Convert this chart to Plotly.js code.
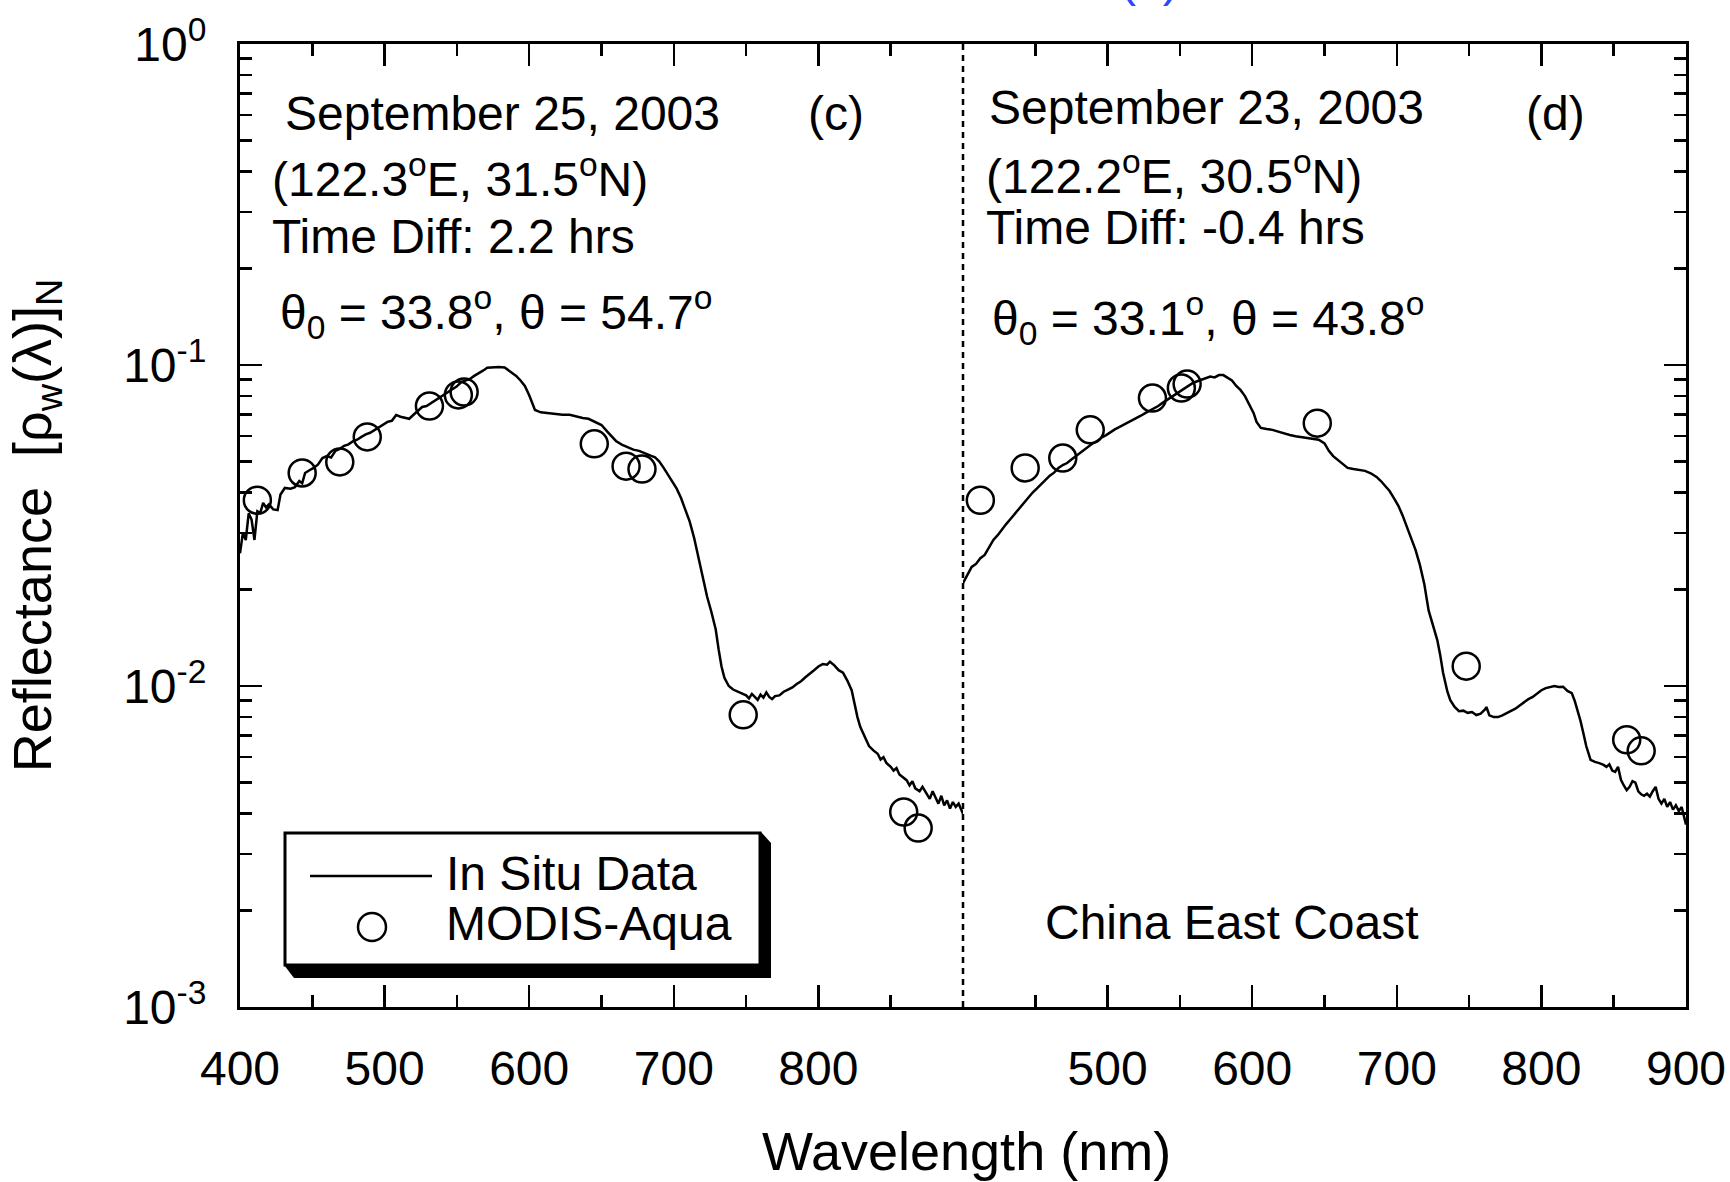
<!DOCTYPE html>
<html><head><meta charset="utf-8">
<script src="https://cdn.plot.ly/plotly-3.0.1.min.js"></script>
<style>html,body{margin:0;padding:0;background:#fff;} #chart{width:1730px;height:1182px;}</style>
</head><body><div id="chart"></div>
<script>
// ---------- DATA ----------
// In situ spectrum, September 25, 2003 (panel c)
const wlSep25 = [400,402,404,406,408,410,412,414,416,418,420,423,426,428,431,435,438,441,443,445,448,451,454,457,460,463,466,469,472,475,478,481,484,487,490,493,496,499,502,505,508,511,514,517,520,523,526,529,532,535,538,541,544,547,550,553,556,559,562,565,568,571,575,579,583,586,588,591,594,597,600,602,604,608,613,618,623,628,633,637,641,645,650,654,657,660,664,668,672,676,680,684,687,690,693,696,699,702,705,708,711,714,717,720,723,726,729,731,733,735,738,741,744,747,750,752,754,756,758,760,762,764,766,768,770,773,776,779,782,785,788,791,794,797,800,803,806,808,811,814,817,820,823,825,827,829,832,835,838,841,843,845,847,850,852,854,856,858,861,863,865,867,870,872,875,877,879,881,883,885,887,889,891,893,895,897,900];
const rwSep25 = [0.0259,0.0300,0.0285,0.0345,0.0330,0.0285,0.0350,0.0346,0.0372,0.0360,0.0368,0.0355,0.0353,0.0395,0.0414,0.0412,0.0416,0.0435,0.0428,0.0461,0.0470,0.0478,0.0490,0.0513,0.0520,0.0515,0.0540,0.0548,0.0560,0.0566,0.0578,0.0585,0.0597,0.0608,0.0615,0.0628,0.0640,0.0652,0.0665,0.0670,0.0699,0.0690,0.0684,0.0680,0.0700,0.0718,0.0740,0.0745,0.0760,0.0775,0.0790,0.0807,0.0820,0.0840,0.0858,0.0885,0.0895,0.0905,0.0925,0.0940,0.0960,0.0980,0.0985,0.0985,0.0982,0.0960,0.0951,0.0925,0.0895,0.0860,0.0805,0.0760,0.0724,0.0712,0.0708,0.0704,0.0700,0.0700,0.0690,0.0684,0.0680,0.0665,0.0650,0.0620,0.0600,0.0580,0.0565,0.0555,0.0545,0.0540,0.0530,0.0522,0.0516,0.0500,0.0478,0.0455,0.0430,0.0412,0.0385,0.0355,0.0325,0.0290,0.0252,0.0215,0.0190,0.0170,0.0150,0.0130,0.0115,0.0106,0.0100,0.00975,0.00960,0.00945,0.00935,0.00915,0.00945,0.00925,0.00905,0.00940,0.00920,0.00955,0.00925,0.00910,0.00930,0.00935,0.00960,0.00975,0.00990,0.01015,0.01035,0.01065,0.01090,0.01120,0.01150,0.01170,0.01165,0.01190,0.01160,0.01120,0.01100,0.01040,0.00970,0.00880,0.00800,0.00745,0.00700,0.00650,0.00630,0.00615,0.00590,0.00600,0.00576,0.00560,0.00545,0.00555,0.00530,0.00520,0.00509,0.00490,0.00505,0.00480,0.00470,0.00485,0.00462,0.00445,0.00470,0.00450,0.00430,0.00455,0.00425,0.00440,0.00415,0.00435,0.00420,0.00430,0.00400];
// MODIS-Aqua, September 25, 2003
const modisBandsSep25 = [412,443,469,488,531,551,555,645,667,678,748,859,869];
const modisSep25 = [0.0379,0.0461,0.0499,0.0597,0.0745,0.0807,0.0824,0.0568,0.0484,0.0474,0.00813,0.00405,0.00361];

// In situ spectrum, September 23, 2003 (panel d)
const wlSep23 = [400,403,406,409,412,415,418,421,424,427,430,433,436,439,442,445,448,451,454,457,460,463,466,469,472,475,478,481,484,487,490,493,496,499,502,505,508,511,514,517,520,523,526,529,532,535,538,541,544,547,550,553,556,559,562,565,568,571,574,577,580,583,586,589,592,595,598,601,603,606,610,614,618,622,626,630,634,638,642,646,650,653,656,659,662,666,670,674,678,682,686,689,692,695,698,701,704,707,710,713,716,719,722,725,728,730,732,735,737,740,743,746,749,752,755,758,761,762,764,767,770,773,776,779,782,785,788,791,794,797,800,803,806,809,812,815,818,821,823,825,827,829,831,834,837,840,843,845,847,849,851,853,855,857,859,861,863,865,867,869,871,873,875,877,879,881,883,885,887,889,891,893,895,897,899,900];
const rwSep23 = [0.0209,0.0222,0.0235,0.0240,0.0250,0.0256,0.0270,0.0285,0.0295,0.0308,0.0320,0.0332,0.0345,0.0358,0.0372,0.0388,0.0400,0.0412,0.0425,0.0440,0.0452,0.0462,0.0478,0.0488,0.0495,0.0508,0.0520,0.0530,0.0545,0.0555,0.0571,0.0580,0.0595,0.0605,0.0618,0.0630,0.0640,0.0650,0.0660,0.0672,0.0684,0.0695,0.0708,0.0720,0.0730,0.0745,0.0762,0.0778,0.0795,0.0812,0.0830,0.0848,0.0862,0.0879,0.0890,0.0900,0.0912,0.0920,0.0915,0.0930,0.0930,0.0912,0.0895,0.0860,0.0835,0.0800,0.0755,0.0708,0.0665,0.0637,0.0632,0.0628,0.0620,0.0612,0.0605,0.0600,0.0596,0.0592,0.0590,0.0585,0.0570,0.0540,0.0520,0.0506,0.0495,0.0478,0.0474,0.0471,0.0468,0.0460,0.0448,0.0435,0.0420,0.0405,0.0385,0.0365,0.0340,0.0313,0.0290,0.0265,0.0238,0.0208,0.0172,0.0155,0.0139,0.0125,0.0110,0.00960,0.00903,0.00860,0.00835,0.00838,0.00825,0.00830,0.00812,0.00820,0.00845,0.00860,0.00810,0.00800,0.00800,0.00810,0.00824,0.00835,0.00850,0.00870,0.00890,0.00910,0.00925,0.00950,0.00970,0.00985,0.00993,0.01000,0.00993,0.00995,0.00965,0.00950,0.00900,0.00841,0.00780,0.00714,0.00650,0.00589,0.00580,0.00575,0.00568,0.00560,0.00570,0.00545,0.00540,0.00560,0.00510,0.00490,0.00474,0.00485,0.00505,0.00500,0.00470,0.00460,0.00455,0.00462,0.00452,0.00470,0.00485,0.00445,0.00430,0.00445,0.00420,0.00435,0.00412,0.00425,0.00408,0.00420,0.00383,0.00370];
// MODIS-Aqua, September 23, 2003
const modisBandsSep23 = [412,443,469,488,531,551,555,645,748,859,869];
const modisSep23 = [0.0379,0.0478,0.0513,0.0628,0.0789,0.0848,0.0872,0.0659,0.01153,0.0068,0.00628];

// Tick labels
const xTickVals = [400,500,600,700,800,900];
const xTickTextLeft = ['400','500','600','700','800',''];
const xTickTextRight = ['','500','600','700','800','900'];
const yTickVals = [0.001,0.01,0.1,1];
const yTickText = ['10<sup>-3</sup>','10<sup>-2</sup>','10<sup>-1</sup>','10<sup>0</sup>'];

// ---------- LAYOUT HELPERS ----------
const W = 1730, H = 1182, ML = 240, MR = 44, MT = 44, MB = 175;
const PW = W - ML - MR, PH = H - MT - MB;
const P = x => (x - ML) / PW;          // pixel x -> paper
const Q = y => (H - MB - y) / PH;      // pixel y -> paper
const FONT = 'Liberation Sans, Arial, Helvetica, sans-serif';

const xMinor = [450,550,650,750,850];
const yMinor = [];
[0.001,0.01,0.1].forEach(d => { for (let k = 2; k <= 9; k++) yMinor.push(+(d*k).toPrecision(3)); });

function xAxisCfg(domain, text, anchor) {
  return {
    domain: domain, range: [400, 900], anchor: anchor,
    tickmode: 'array', tickvals: xTickVals, ticktext: text,
    ticks: 'inside', ticklen: 22, tickwidth: 2.5, tickcolor: 'black',
    minor: {tickmode: 'array', tickvals: xMinor, ticks: 'inside', ticklen: 12, tickwidth: 2.5, tickcolor: 'black'},
    showline: true, linewidth: 3, linecolor: 'black', mirror: 'ticks',
    showgrid: false, zeroline: false, automargin: false,
    tickfont: {family: FONT, size: 48, color: 'black'},
    ticklabelstandoff: 17
  };
}
function yAxisCfg(anchor, side, labels) {
  return {
    type: 'log', range: [-3, 0], anchor: anchor, side: side,
    tickmode: 'array', tickvals: yTickVals, ticktext: yTickText,
    showticklabels: labels,
    ticks: 'inside', ticklen: 22, tickwidth: 2.5, tickcolor: 'black',
    minor: {tickmode: 'array', tickvals: yMinor, ticks: 'inside', ticklen: 12, tickwidth: 2.5, tickcolor: 'black'},
    showline: true, linewidth: 3, linecolor: 'black',
    showgrid: false, zeroline: false, automargin: false,
    tickfont: {family: FONT, size: 48, color: 'black'},
    ticklabelstandoff: 21
  };
}

const lineStyle = {color: 'black', width: 2.5};
const markerStyle = {symbol: 'circle-open', size: 27, color: 'black', line: {color: 'black', width: 2.5}};

const traces = [
  {x: wlSep25, y: rwSep25, xaxis: 'x', yaxis: 'y', mode: 'lines', line: lineStyle, name: 'In Situ Data', showlegend: false},
  {x: modisBandsSep25, y: modisSep25, xaxis: 'x', yaxis: 'y', mode: 'markers', marker: markerStyle, name: 'MODIS-Aqua', showlegend: false, cliponaxis: false},
  {x: wlSep23, y: rwSep23, xaxis: 'x2', yaxis: 'y2', mode: 'lines', line: lineStyle, name: 'In Situ Data', showlegend: false},
  {x: modisBandsSep23, y: modisSep23, xaxis: 'x2', yaxis: 'y2', mode: 'markers', marker: markerStyle, name: 'MODIS-Aqua', showlegend: false, cliponaxis: false}
];

const yAx = yAxisCfg('x', 'left', true);
yAx.title = {text: 'Reflectance  [ρ<sub>w</sub>(λ)]<sub>N</sub>', font: {family: FONT, size: 54, color: 'black'}, standoff: 55};

function txt(text, x, y, xanchor, size, color) {
  return {text: text, xref: 'paper', yref: 'paper', x: P(x), y: Q(y), xanchor: xanchor || 'left', yanchor: 'middle',
          showarrow: false, font: {family: FONT, size: size || 48, color: color || 'black'}};
}

const annotations = [
  txt('September 25, 2003', 283, 114),
  txt('(c)', 836, 114, 'center'),
  txt('(122.3<sup>o</sup>E, 31.5<sup>o</sup>N)', 270, 176),
  txt('Time Diff: 2.2 hrs', 270, 236),
  txt('θ<sub>0</sub> = 33.8<sup>o</sup>, θ = 54.7<sup>o</sup>', 278, 313),
  txt('September 23, 2003', 987, 108),
  txt('(d)', 1555, 114, 'center'),
  txt('(122.2<sup>o</sup>E, 30.5<sup>o</sup>N)', 984, 173),
  txt('Time Diff: -0.4 hrs', 984, 228),
  txt('θ<sub>0</sub> = 33.1<sup>o</sup>, θ = 43.8<sup>o</sup>', 990, 318),
  txt('China East Coast', 1043, 922),
  txt('In Situ Data', 444, 873),
  txt('MODIS-Aqua', 444, 923),
  txt('Wavelength (nm)', 966, 1151, 'center', 54),
  txt('(b)', 1149, -20, 'center', 48, '#2a46ff')
];

const shapes = [
  // dotted divider between panels
  {type: 'line', xref: 'paper', yref: 'paper', x0: 0.5, x1: 0.5, y0: 0, y1: 1, line: {color: 'black', width: 2.5, dash: '6px,5px'}},
  // legend shadow
  {type: 'path', xref: 'paper', yref: 'paper', fillcolor: 'black', line: {width: 0},
   path: `M ${P(761)} ${Q(832)} L ${P(771)} ${Q(843)} L ${P(771)} ${Q(978)} L ${P(294)} ${Q(978)} L ${P(284)} ${Q(965)} Z`},
  // legend box
  {type: 'rect', xref: 'paper', yref: 'paper', x0: P(285), x1: P(760), y0: Q(965), y1: Q(833), fillcolor: 'white', line: {color: 'black', width: 3}},
  // legend line sample
  {type: 'line', xref: 'paper', yref: 'paper', x0: P(310), x1: P(432), y0: Q(876), y1: Q(876), line: {color: 'black', width: 2.5}},
  // legend circle sample
  {type: 'circle', xref: 'paper', yref: 'paper', xsizemode: 'pixel', ysizemode: 'pixel', xanchor: P(372), yanchor: Q(927),
   x0: -14, x1: 14, y0: -14, y1: 14, line: {color: 'black', width: 2.5}}
];

const layout = {
  width: W, height: H,
  margin: {l: ML, r: MR, t: MT, b: MB, pad: 0},
  paper_bgcolor: 'white', plot_bgcolor: 'white',
  font: {family: FONT, size: 48, color: 'black'},
  showlegend: false,
  xaxis: xAxisCfg([0, 0.5], xTickTextLeft, 'y'),
  xaxis2: xAxisCfg([0.5, 1], xTickTextRight, 'y2'),
  yaxis: yAx,
  yaxis2: yAxisCfg('x2', 'right', false),
  annotations: annotations,
  shapes: shapes
};

Plotly.newPlot('chart', traces, layout, {displayModeBar: false, staticPlot: true});
</script></body></html>
